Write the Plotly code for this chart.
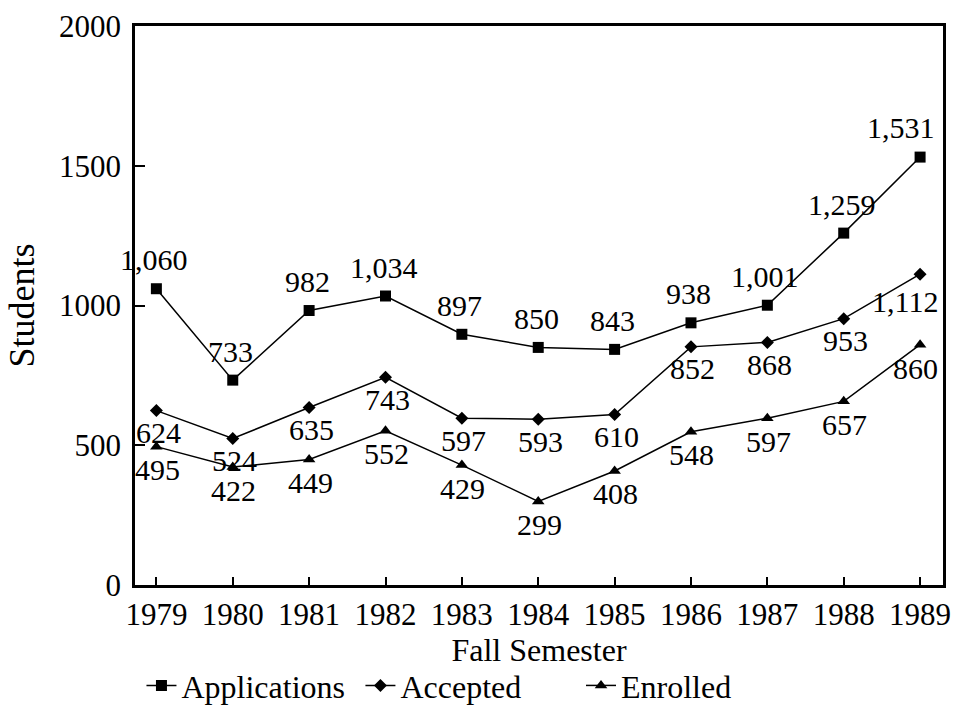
import plotly.graph_objects as go

# Fall semesters and student counts
years = [1979, 1980, 1981, 1982, 1983, 1984, 1985, 1986, 1987, 1988, 1989]
applications = [1060, 733, 982, 1034, 897, 850, 843, 938, 1001, 1259, 1531]
accepted = [624, 524, 635, 743, 597, 593, 610, 852, 868, 953, 1112]
enrolled = [495, 422, 449, 552, 429, 299, 408, 548, 597, 657, 860]

y_ticks = [0, 500, 1000, 1500, 2000]

FONT = "Liberation Serif"
FS = 30

series = [
    ("Applications", applications, "square", 11, "legend"),
    ("Accepted", accepted, "diamond", 10, "legend2"),
    ("Enrolled", enrolled, "triangle-up", 11, "legend3"),
]

# pixel offsets of value labels from their points (dx, dy)
label_offsets = {
    "Applications": [(-2, 29)] * 10 + [(-19, 30)],
    "Accepted": [(2, -22)] * 10 + [(-15, -27)],
    "Enrolled": [(1, -23)] * 10 + [(-5, -24)],
}

fig = go.Figure()
for name, vals, sym, size, leg in series:
    fig.add_trace(go.Scatter(
        x=years, y=vals, name=name, mode="lines+markers",
        line=dict(color="black", width=1.5),
        marker=dict(symbol=sym, size=size, color="black"),
        legend=leg, showlegend=True,
    ))
    for yr, v, (dx, dy) in zip(years, vals, label_offsets[name]):
        fig.add_annotation(
            x=yr, y=v, text=f"{v:,}", showarrow=False,
            xshift=dx, yshift=dy, xanchor="center", yanchor="middle",
            font=dict(family=FONT, size=FS, color="black"),
        )

leg_common = dict(
    orientation="h", yanchor="middle", xanchor="left",
    font=dict(family=FONT, size=32, color="black"),
    bgcolor="rgba(0,0,0,0)", itemwidth=30, visible=True,
)

fig.update_layout(
    width=960, height=723,
    margin=dict(l=135, r=9, t=22, b=138),
    paper_bgcolor="white", plot_bgcolor="white",
    showlegend=True,
    font=dict(family=FONT, size=FS, color="black"),
    legend=dict(x=0.008, y=-0.18, **leg_common),
    legend2=dict(x=0.279, y=-0.18, **leg_common),
    legend3=dict(x=0.552, y=-0.18, **leg_common),
    xaxis=dict(
        range=[1978.72, 1989.3], tickmode="array", tickvals=years,
        ticktext=[str(y) for y in years],
        ticks="inside", ticklen=8, tickwidth=1.5, tickcolor="black",
        showline=True, linecolor="black", linewidth=2.5, mirror=True,
        showgrid=False, zeroline=False,
        tickfont=dict(family=FONT, size=31),
        title=dict(text="Fall Semester", font=dict(family=FONT, size=32), standoff=0),
    ),
    yaxis=dict(
        range=[0, 2000], tickmode="array", tickvals=y_ticks,
        ticks="inside", ticklen=10, tickwidth=1.5, tickcolor="black",
        showline=True, linecolor="black", linewidth=2.5, mirror=True,
        showgrid=False, zeroline=False, ticklabelstandoff=5,
        tickfont=dict(family=FONT, size=31),
        title=dict(text="Students", font=dict(family=FONT, size=36), standoff=14),
    ),
)

fig.write_html("out.html")
